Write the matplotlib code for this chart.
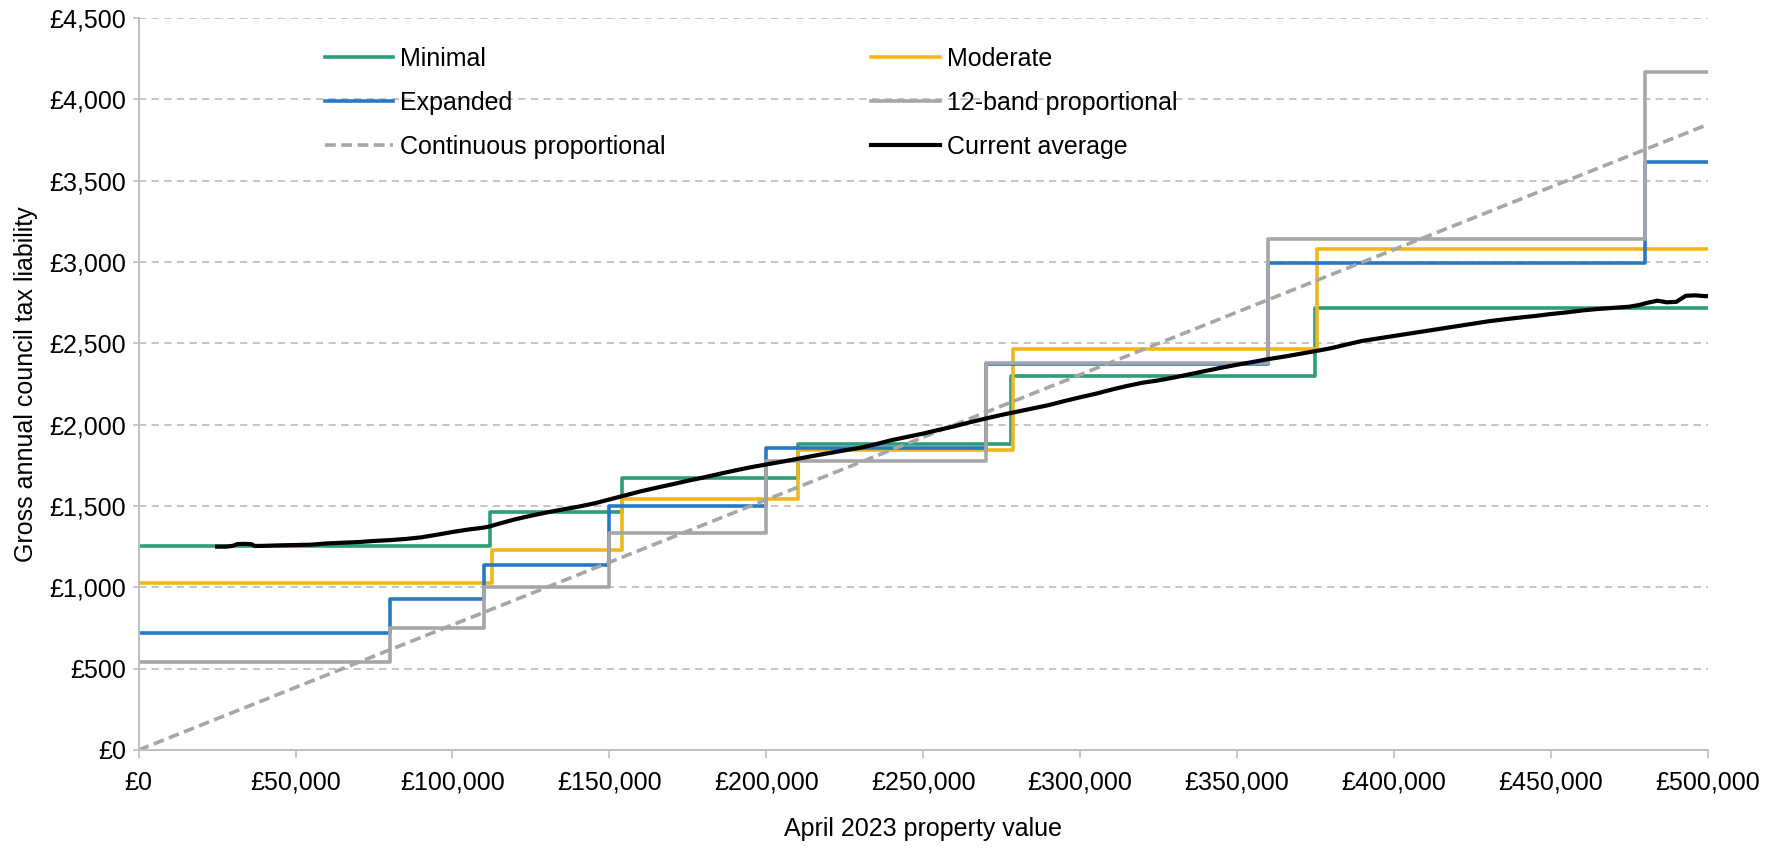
import matplotlib.pyplot as plt
from matplotlib.ticker import FuncFormatter

plt.rcParams['font.family'] = ['Liberation Sans', 'DejaVu Sans']

# band thresholds (property value, £) and annual liability per band (£)
minimal_cuts = [112000, 154000, 210000, 278000, 375000]
minimal_vals = [1252, 1462, 1672, 1881, 2300, 2714]

moderate_cuts = [112500, 154000, 210000, 278500, 375500]
moderate_vals = [1025, 1230, 1541, 1845, 2463, 3081]

expanded_cuts = [80000, 110000, 150000, 200000, 270000, 360000, 480000]
expanded_vals = [721, 928, 1137, 1497, 1859, 2370, 2996, 3616]

band12_cuts = [80000, 110000, 150000, 200000, 270000, 360000, 480000]
band12_vals = [539, 752, 1003, 1334, 1778, 2380, 3141, 4170]

# continuous proportional: liability at £0 and £500,000
cont_x = [0, 500000]
cont_y = [0, 3845]

# current average liability by property value
avg_x = [25000, 28000, 30000, 31500, 34000, 36000, 37000, 40000, 45000, 50000,
         55000, 60000, 65000, 70000, 75000, 80000, 85000, 90000, 95000, 100000,
         105000, 110000, 112000, 115000, 120000, 125000, 130000, 135000, 140000, 145000,
         150000, 155000, 160000, 165000, 170000, 175000, 180000, 185000, 190000, 195000,
         200000, 205000, 210000, 215000, 220000, 225000, 230000, 235000, 240000, 245000,
         250000, 255000, 260000, 265000, 270000, 275000, 280000, 285000, 290000, 295000,
         300000, 305000, 310000, 315000, 320000, 325000, 330000, 335000, 340000, 345000,
         350000, 355000, 360000, 365000, 370000, 375000, 380000, 385000, 390000, 395000,
         400000, 405000, 410000, 415000, 420000, 425000, 430000, 435000, 440000, 445000,
         450000, 455000, 460000, 465000, 470000, 475000, 478000, 481000, 484000, 487000,
         490000, 493000, 496000, 499000, 500000]
avg_y = [1250, 1250, 1255, 1266, 1267, 1265, 1254, 1255, 1258, 1260,
         1262, 1270, 1274, 1278, 1285, 1290, 1297, 1307, 1323, 1340,
         1355, 1367, 1375, 1392, 1418, 1440, 1460, 1478, 1495, 1515,
         1540, 1565, 1590, 1612, 1633, 1655, 1675, 1697, 1718, 1738,
         1755, 1772, 1790, 1808, 1825, 1842, 1858, 1880, 1905, 1925,
         1945, 1968, 1990, 2015, 2038, 2060, 2080, 2100, 2120, 2145,
         2168, 2190, 2215, 2238, 2258, 2272, 2290, 2310, 2330, 2350,
         2368, 2385, 2403, 2418, 2435, 2452, 2470, 2493, 2515, 2530,
         2545, 2560, 2575, 2590, 2605, 2620, 2635, 2647, 2658, 2668,
         2680, 2690, 2702, 2711, 2718, 2725, 2735, 2750, 2762, 2752,
         2755, 2792, 2795, 2790, 2790]

X_MAX = 500000


def step_line(cuts, vals):
    xs = [0] + cuts + [X_MAX]
    ys = vals + [vals[-1]]
    return xs, ys


fig = plt.figure(figsize=(17.77, 8.48), dpi=100)
ax = fig.add_axes([0.078, 0.1156, 0.883, 0.8632])

lw = 2.6
x, y = step_line(minimal_cuts, minimal_vals)
h_min, = ax.step(x, y, where='post', color='#2e9e74', lw=lw, label='Minimal')
x, y = step_line(moderate_cuts, moderate_vals)
h_mod, = ax.step(x, y, where='post', color='#f2b619', lw=lw, label='Moderate')
x, y = step_line(expanded_cuts, expanded_vals)
h_exp, = ax.step(x, y, where='post', color='#2878c8', lw=lw, label='Expanded')
x, y = step_line(band12_cuts, band12_vals)
h_b12, = ax.step(x, y, where='post', color='#a6a6a6', lw=lw, label='12-band proportional')
h_cont, = ax.plot(cont_x, cont_y, color='#a6a6a6', lw=2.6, ls=(0, (3, 1.5)),
                  label='Continuous proportional')
h_avg, = ax.plot(avg_x, avg_y, color='black', lw=3.0, label='Current average')

ax.set_xlim(0, X_MAX)
ax.set_ylim(0, 4500)
ax.set_xticks(range(0, 500001, 50000))
ax.set_yticks(range(0, 4501, 500))
money = FuncFormatter(lambda v, p: '£{:,.0f}'.format(v))
ax.xaxis.set_major_formatter(money)
ax.yaxis.set_major_formatter(money)

ax.grid(axis='y', color='#bfbfbf', ls=(0, (4, 3)), lw=1.3)
ax.set_axisbelow(True)
for s in ['top', 'right']:
    ax.spines[s].set_visible(False)
for s in ['left', 'bottom']:
    ax.spines[s].set_color('#bfbfbf')
    ax.spines[s].set_linewidth(1.4)
ax.tick_params(axis='x', length=6, width=1.2, color='#bfbfbf', pad=9, labelsize=18)
ax.tick_params(axis='y', length=4, width=1.2, color='#bfbfbf', pad=5, labelsize=18)

ax.set_xlabel('April 2023 property value', fontsize=18, labelpad=16)
ax.set_ylabel('Gross annual council tax liability', fontsize=18, labelpad=8)

handles = [h_min, h_exp, h_cont, h_mod, h_b12, h_avg]
ax.legend(handles=handles, labels=[h.get_label() for h in handles],
          loc='upper left', bbox_to_anchor=(0.1185, 0.961), ncol=2, frameon=False,
          fontsize=18, handlelength=2.75, handletextpad=0.28, columnspacing=8.2,
          labelspacing=0.8, borderpad=0, borderaxespad=0)

fig.savefig('out.png', dpi=100)
